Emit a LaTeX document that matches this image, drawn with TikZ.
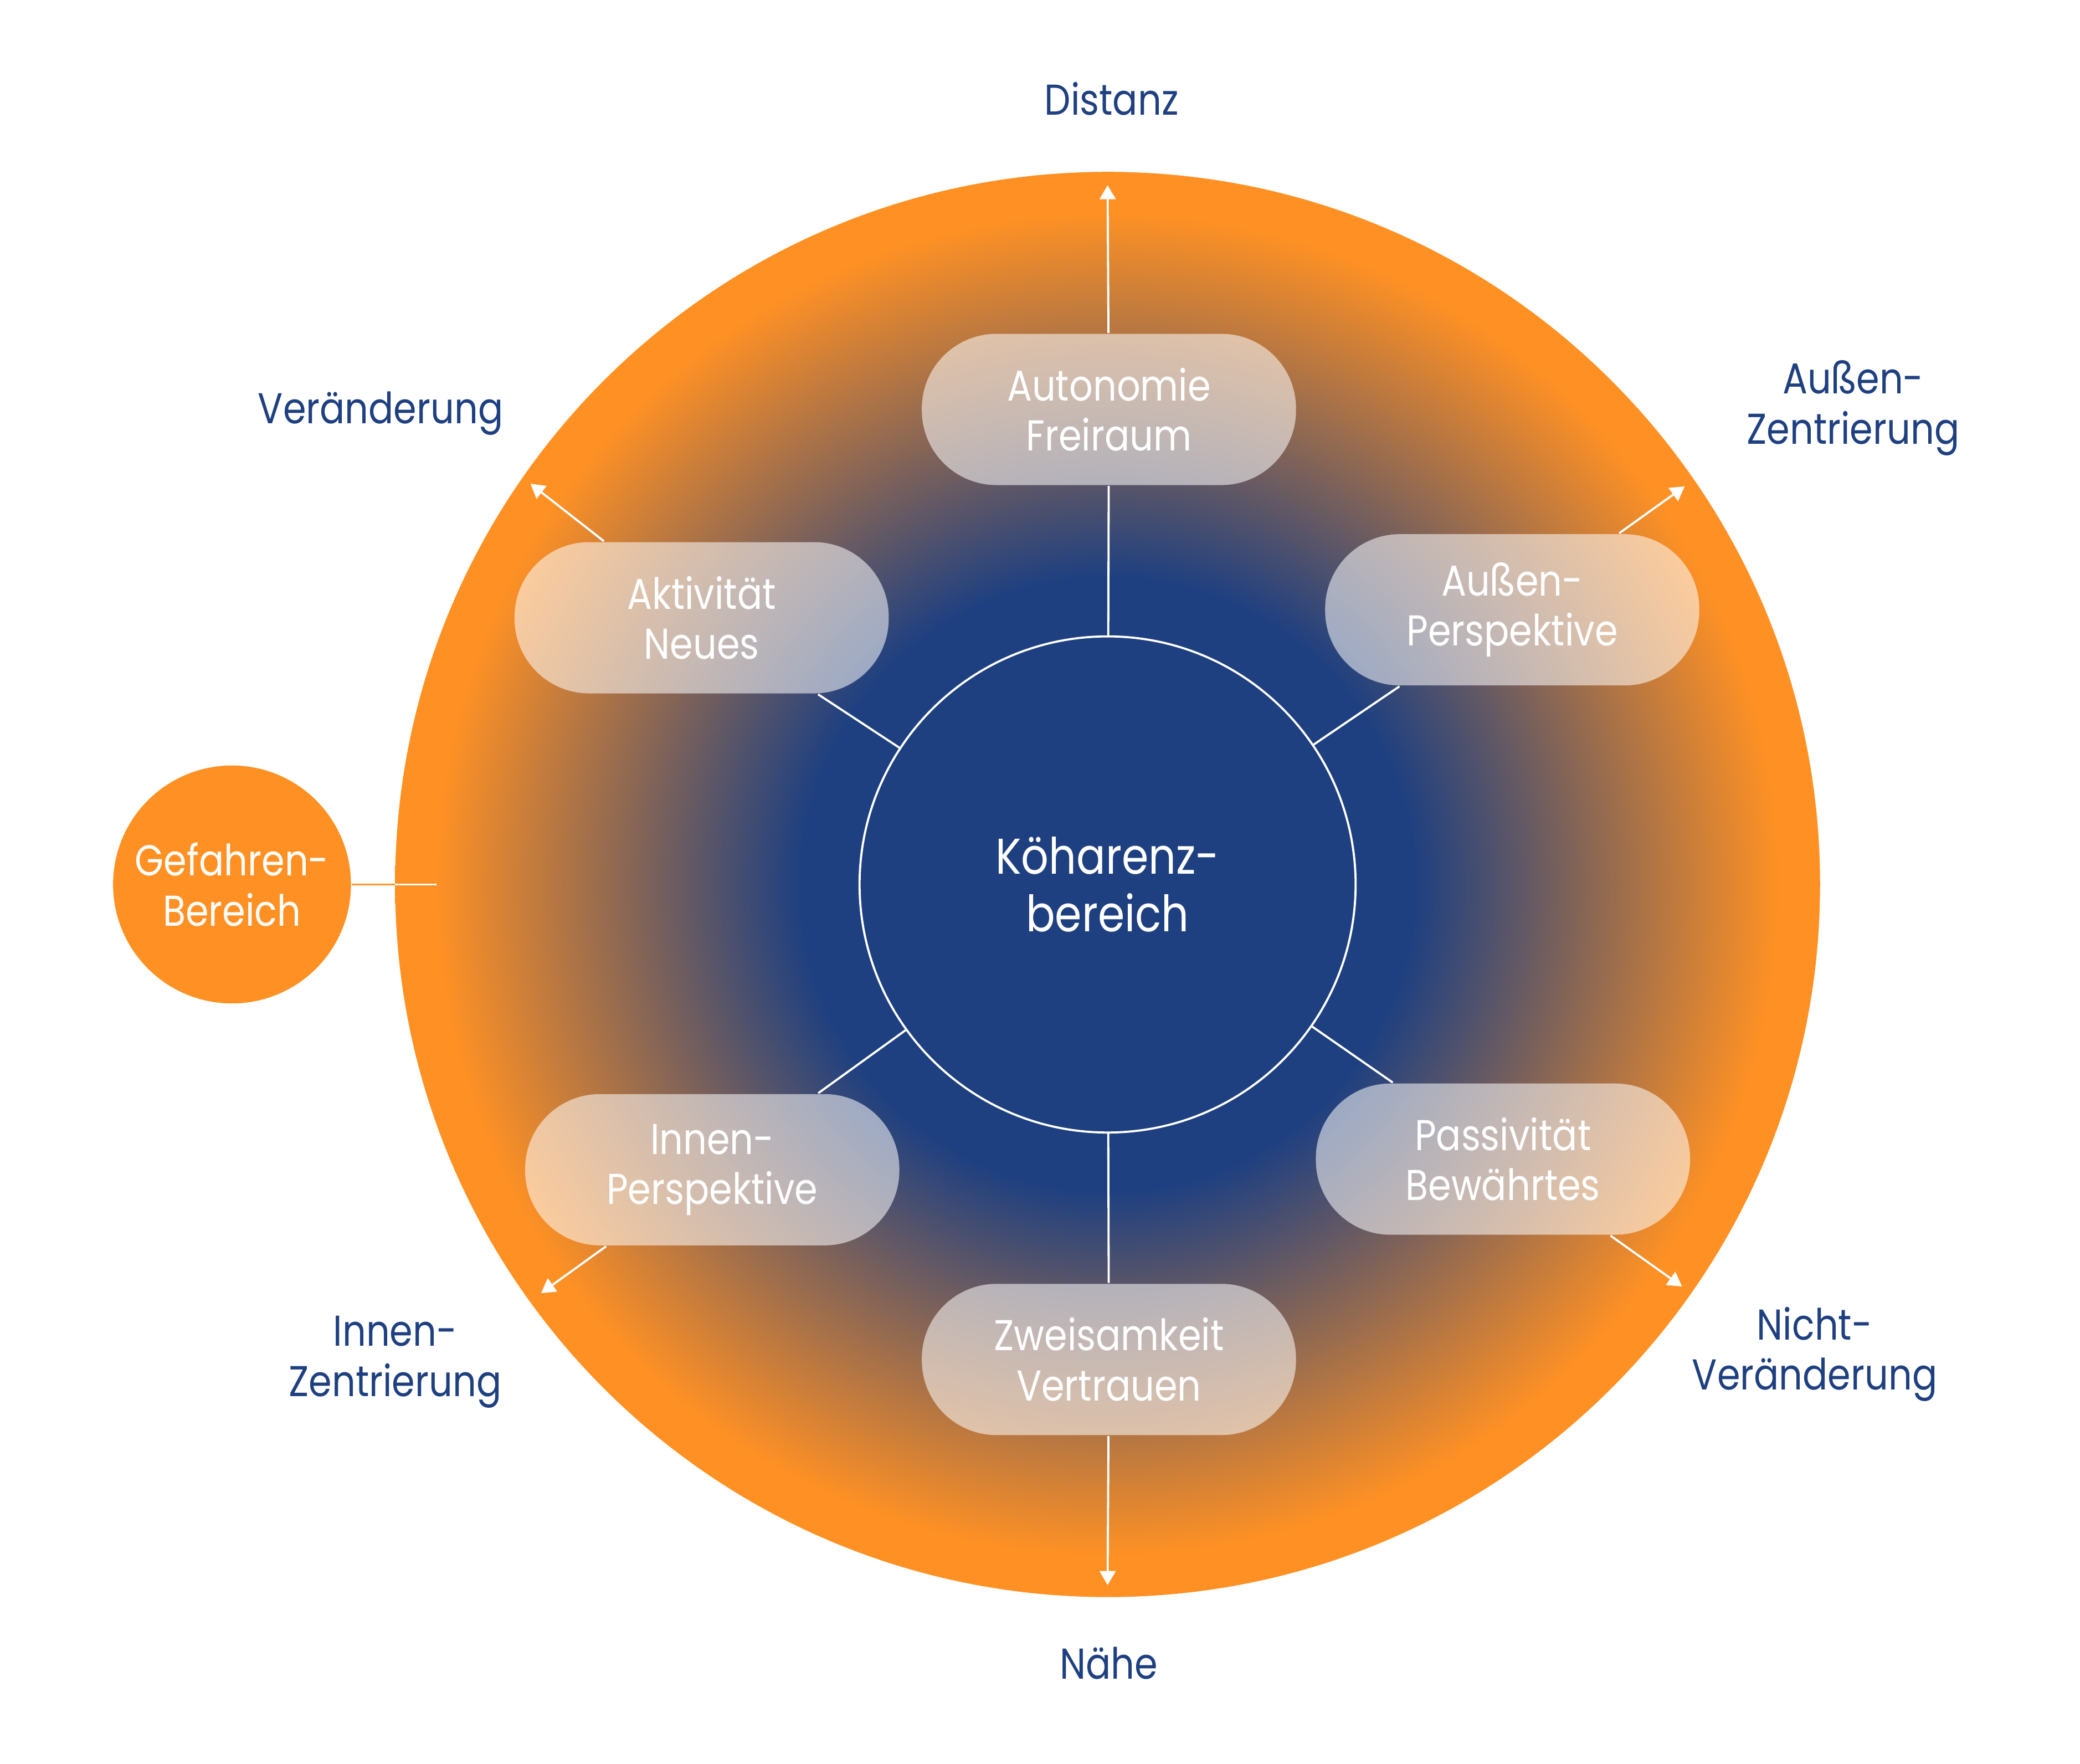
\documentclass[tikz,border=0pt]{standalone}
\usepackage{fontspec}
\setmainfont{Poppins}[FakeStretch=0.86]
\usetikzlibrary{arrows.meta}

\definecolor{cblue}{HTML}{1F4080}
\definecolor{corange}{HTML}{FF9124}
\pgfdeclareradialshading{coherence}{\pgfpoint{0bp}{0bp}}{color(0bp)=(cblue); color(10.8bp)=(cblue); color(23.6bp)=(corange); color(50bp)=(corange)}

\begin{document}
\begin{tikzpicture}[x=0.00995cm, y=0.00995cm,
  pill/.style={rectangle, rounded corners=0.56cm, minimum width=2.806cm, minimum height=1.134cm,
    fill=white, fill opacity=0.55, text opacity=1, text=white, align=center,
    font=\fontsize{9.2}{10.7}\selectfont},
  pole/.style={text=cblue, align=center, font=\fontsize{9.2}{10.7}\selectfont},
  link/.style={white, line width=0.45pt},
  ray/.style={link, -{Triangle[length=3pt, width=3.4pt]}}]
\useasboundingbox (-834.9,666.6) rectangle (733,-662.8);

% background
\shade[shading=coherence] (0,0) circle (5.343cm);

% nodes
\node[circle, draw=white, fill=cblue, line width=0.45pt, minimum size=3.72cm, text=white, align=center,
  font=\fontsize{10.7}{12.3}\selectfont] (core) at (0,0) {Köharenz-\\bereich};
\node[circle, fill=corange, minimum size=1.784cm, inner sep=0pt, text=white, align=center,
  font=\fontsize{9.2}{10.7}\selectfont] (gefahr) at (-660,0) {Gefahren-\\Bereich};

\node[pill] (auton) at (1,358) {Autonomie\\Freiraum};
\node[pill] (aktiv) at (-306,201) {Aktivität\\Neues};
\node[pill] (aussen) at (305,207) {Außen-\\Perspektive};
\node[pill] (innen) at (-298,-215) {Innen-\\Perspektive};
\node[pill] (passiv) at (298,-207) {Passivität\\Bewährtes};
\node[pill] (zweis) at (1,-358) {Zweisamkeit\\Vertrauen};

\node[pole] (dist) at (3,592) {Distanz};
\node[pole] (naehe) at (1,-587) {Nähe};
\node[pole] (veraend) at (-548,355) {Veränderung};
\node[pole] (aussenz) at (562,359) {Außen-\\Zentrierung};
\node[pole] (innenz) at (-537,-360) {Innen-\\Zentrierung};
\node[pole] (nichtv) at (533,-354) {Nicht-\\Veränderung};

\coordinate (tipD) at (0,527);
\coordinate (tipN) at (0,-528);
\coordinate (tipV) at (-435,302);
\coordinate (tipAZ) at (435,300);
\coordinate (tipIZ) at (-427,-308);
\coordinate (tipNV) at (433,-303);
\coordinate (rimW) at (-537,0);
\coordinate (gefEnd) at (-506,0);

% links
\draw [link] (core)--(auton);
\draw [link] (core)--(aktiv);
\draw [link] (core)--(aussen);
\draw [link] (core)--(innen);
\draw [link] (core)--(passiv);
\draw [link] (core)--(zweis);
\draw [link, corange] (gefahr)--(rimW);
\draw [link] (rimW)--(gefEnd);

% arrows
\draw [ray] (auton)--(tipD);
\draw [ray] (zweis)--(tipN);
\draw [ray] (aktiv)--(tipV);
\draw [ray] (aussen)--(tipAZ);
\draw [ray] (innen)--(tipIZ);
\draw [ray] (passiv)--(tipNV);
\end{tikzpicture}
\end{document}
